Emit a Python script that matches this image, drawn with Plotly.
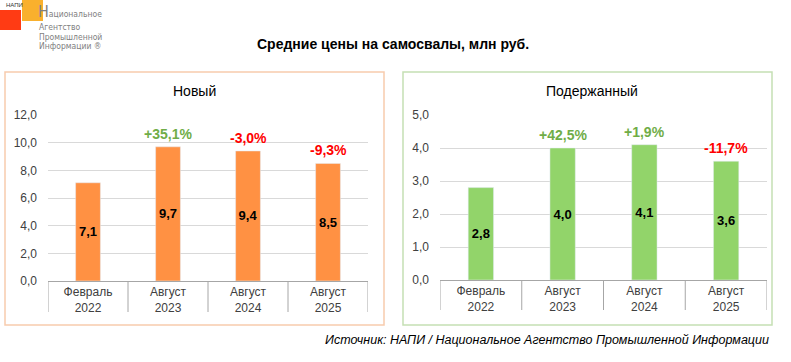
import plotly.graph_objects as go

W, H = 791, 362

categories = ["Февраль<br>2022", "Август<br>2023", "Август<br>2024", "Август<br>2025"]
new_prices = [7.1, 9.7, 9.4, 8.5]
new_changes = [None, 35.1, -3.0, -9.3]
used_prices = [2.8, 4.0, 4.1, 3.6]
used_changes = [None, 42.5, 1.9, -11.7]

title_text = "Средние цены на самосвалы, млн руб."
panel_titles = ["Новый", "Подержанный"]
source_text = "Источник: НАПИ / Национальное Агентство Промышленной Информации"
logo_small = "НАПИ"
logo_lines = ["Национальное", "Агентство", "Промышленной", "Информации ®"]

ORANGE = "#FF9143"
GREEN = "#92D46A"
POS = "#70AD47"
NEG = "#FF0000"
FONT = "Liberation Sans, Arial, sans-serif"
LOGO_FONT = "DejaVu Sans Condensed, Liberation Sans Narrow, Liberation Sans, sans-serif"


def px(x):
    return x / W


def py(y):
    return 1 - y / H


def fmt_change(v):
    s = f"{v:+.1f}%"
    return s.replace(".", ",")


fig = go.Figure()

bar_text_font = dict(family=FONT, size=13, color="#000000", weight="bold")
fig.add_trace(go.Bar(x=categories, y=new_prices, marker_color=ORANGE, width=0.31,
                     texttemplate="%{y:.1f}", textposition="inside", insidetextanchor="middle",
                     textangle=0, constraintext="none", textfont=bar_text_font,
                     xaxis="x", yaxis="y", hoverinfo="skip", showlegend=False))
fig.add_trace(go.Bar(x=categories, y=used_prices, marker_color=GREEN, width=0.31,
                     texttemplate="%{y:.1f}", textposition="inside", insidetextanchor="middle",
                     textangle=0, constraintext="none", textfont=bar_text_font,
                     xaxis="x2", yaxis="y2", hoverinfo="skip", showlegend=False))

axis_common = dict(showgrid=False, showline=True, linecolor="#A6A6A6", linewidth=1,
                   tickfont=dict(family=FONT, size=12, color="#404040"), ticks="",
                   range=[-0.5, 3.5], fixedrange=True, automargin=False)
yaxis_common = dict(showgrid=True, gridcolor="#D9D9D9", gridwidth=1, zeroline=False,
                    showline=False, tickformat=".1f", ticks="", ticklabelstandoff=10,
                    tickfont=dict(family=FONT, size=12, color="#404040"), fixedrange=True,
                    automargin=False)

fig.update_layout(
    width=W, height=H,
    margin=dict(l=0, r=0, t=0, b=0, autoexpand=False),
    paper_bgcolor="white", plot_bgcolor="white",
    separators=", ",
    xaxis=dict(domain=[px(48), px(368)], anchor="y", **axis_common),
    yaxis=dict(domain=[py(281), py(115)], anchor="x", range=[0, 12], dtick=2, **yaxis_common),
    xaxis2=dict(domain=[px(440), px(767)], anchor="y2", **axis_common),
    yaxis2=dict(domain=[py(280), py(115)], anchor="x2", range=[0, 5], dtick=1, **yaxis_common),
)

shapes = []
# panel borders
shapes.append(dict(type="rect", xref="paper", yref="paper", x0=px(5), x1=px(384), y0=py(325), y1=py(72),
                   line=dict(color="#F8CBAD", width=1.5)))
shapes.append(dict(type="rect", xref="paper", yref="paper", x0=px(403), x1=px(772), y0=py(325), y1=py(72),
                   line=dict(color="#C5E0B4", width=1.5)))
# category separators
for xr, ytop, yb in (("x", 281, 312), ("x2", 280, 310)):
    for i in range(len(categories) + 1):
        shapes.append(dict(type="line", xref=xr, yref="paper", x0=i - 0.5, x1=i - 0.5,
                           y0=py(yb), y1=py(ytop), line=dict(color="#A6A6A6", width=1)))
# logo
shapes.append(dict(type="rect", xref="paper", yref="paper", x0=px(0), x1=px(21), y0=py(30), y1=py(10),
                   fillcolor="#FF3B14", line=dict(width=0)))
shapes.append(dict(type="rect", xref="paper", yref="paper", x0=px(22), x1=px(43), y0=py(21), y1=py(0),
                   fillcolor="#F9B02D", line=dict(width=0)))
fig.update_layout(shapes=shapes)

ann = []


def add_text(text, x, y, size, color="#000000", xanchor="center", family=FONT, yanchor="middle", **kw):
    ann.append(dict(text=text, x=px(x), y=py(y), xref="paper", yref="paper", showarrow=False,
                    xanchor=xanchor, yanchor=yanchor, font=dict(family=family, size=size, color=color, **kw)))


add_text(title_text, 393, 44, 14, weight="bold")
add_text(panel_titles[0], 194, 91, 14)
add_text(panel_titles[1], 592, 91, 14)
add_text("<i>" + source_text + "</i>", 771, 340, 12.5, xanchor="right")

for xr, yr, prices, changes in (("x", "y", new_prices, new_changes), ("x2", "y2", used_prices, used_changes)):
    for cat, p, c in zip(categories, prices, changes):
        if c is None:
            continue
        ann.append(dict(text=fmt_change(c), x=cat, y=p, xref=xr, yref=yr, showarrow=False,
                        yanchor="bottom", yshift=3,
                        font=dict(family=FONT, size=14, color=POS if c >= 0 else NEG, weight="bold")))

# logo text
add_text(logo_small, 4, 5, 6, color="#333333", xanchor="left")
first = logo_lines[0]
add_text('<span style="font-size:16px">' + first[0] + '</span>' + first[1:], 36, 23.5, 8.5,
         color="#7F7F7F", xanchor="left", family=LOGO_FONT, yanchor="bottom")
for i, t in enumerate(logo_lines[1:]):
    add_text(t, 37, 27.5 + 9 * i, 8.5, color="#7F7F7F", xanchor="left", family=LOGO_FONT)
fig.update_layout(annotations=ann)

fig.write_html("out.html", config={"displayModeBar": False},
               post_script="document.body.style.margin='0';")
